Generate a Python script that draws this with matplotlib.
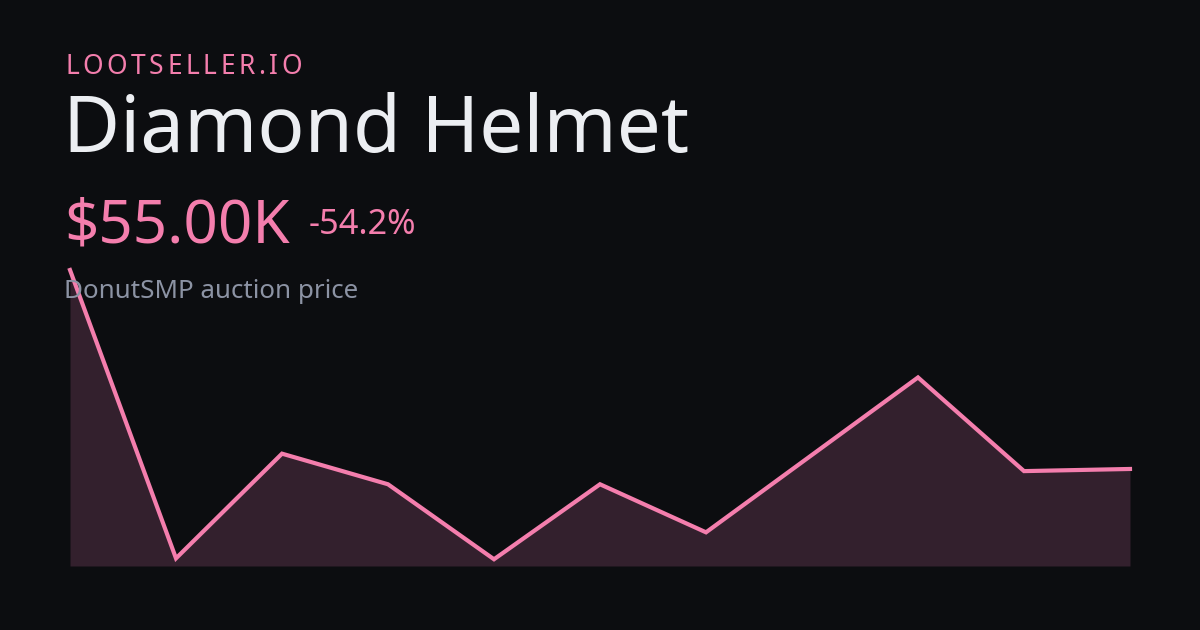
import matplotlib
matplotlib.use('Agg')
import matplotlib.pyplot as plt
import numpy as np

brand = 'LOOTSELLER.IO'
item_name = 'Diamond Helmet'
price_label = '$55.00K'
change_label = '-54.2%'
subtitle = 'DonutSMP auction price'
prices = [120.0, 25.8, 60.0, 50.0, 25.5, 50.0, 34.3, 59.6, 84.9, 54.3, 55.0]

BG = '#0c0d10'
PINK = '#f47ead'
FILL = '#33202d'
WHITE = '#eceef2'
GRAY = '#8c93a4'
W, H = 1200, 630


def px(x, y):
    return x / W, 1 - y / H


def spaced_text(fig, x, y, s, width, **kw):
    # matplotlib has no letter-spacing, so place each glyph by hand
    r = fig.canvas.get_renderer()
    probe = fig.text(0, 0, s, **kw)
    natural = probe.get_window_extent(r).width
    probe.remove()
    gap = (width - natural) / (len(s) - 1)
    for i, ch in enumerate(s):
        off = 0
        if i > 0:
            p = fig.text(0, 0, s[:i], **kw)
            off = p.get_window_extent(r).width
            p.remove()
        fig.text(*px(x + off + i * gap, y), ch, va='baseline', **kw)


def main():
    plt.rcParams['font.family'] = ['Noto Sans', 'DejaVu Sans']
    fig = plt.figure(figsize=(12, 6.3), dpi=100, facecolor=BG)

    x0, x1, ytop, ybot = 70, 1130, 270, 566
    ax = fig.add_axes([x0 / W, 1 - ybot / H, (x1 - x0) / W, (ybot - ytop) / H])
    ax.set_facecolor(BG)
    xs = np.arange(len(prices))
    lo = min(prices) - 2.2
    ax.fill_between(xs, prices, lo, color=FILL, lw=0)
    ax.plot(xs, prices, color=PINK, lw=3, solid_joinstyle='miter', clip_on=False)
    ax.set_xlim(0, len(prices) - 1)
    ax.set_ylim(lo, max(prices))
    ax.axis('off')

    spaced_text(fig, 65, 74, brand, 237, fontsize=19, color=PINK)
    fig.text(*px(63, 152), item_name, fontsize=56.3, color=WHITE, va='baseline')
    fig.text(*px(64, 243), price_label, fontsize=43.3, color=PINK, va='baseline')
    fig.text(*px(309, 234), change_label, fontsize=24.7, color=PINK, va='baseline')
    fig.text(*px(64, 298), subtitle, fontsize=18.7, color=GRAY, va='baseline')

    fig.savefig('out.png', dpi=100, facecolor=BG)


if __name__ == '__main__':
    main()
